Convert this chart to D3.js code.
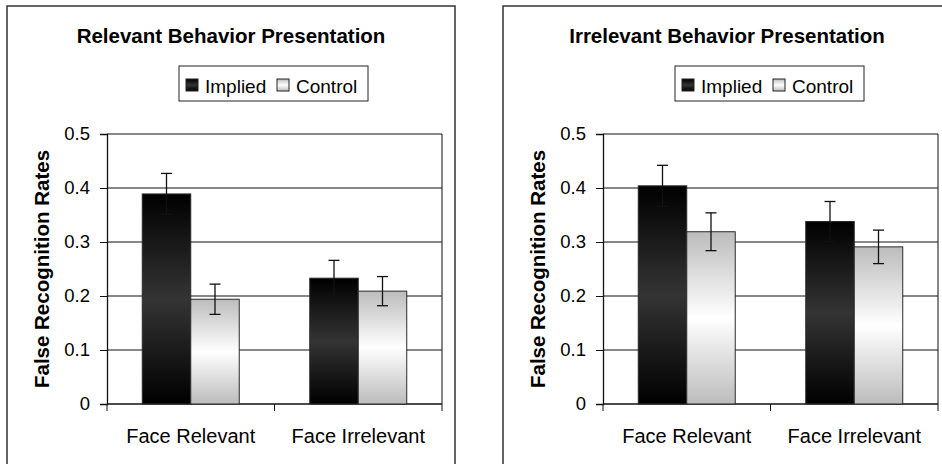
<!DOCTYPE html>
<html>
<head>
<meta charset="utf-8">
<script src="https://cdn.jsdelivr.net/npm/d3@7"></script>
<style>
  body { margin: 0; background: #fff; }
  svg { display: block; font-family: "Liberation Sans", Arial, sans-serif; }
</style>
</head>
<body>
<svg id="chart" width="942" height="464"></svg>
<script>
// data
const categories = ["Face Relevant", "Face Irrelevant"];
const seriesNames = ["Implied", "Control"];
const yTicks = [0, 0.1, 0.2, 0.3, 0.4, 0.5];

const relevantTitle = "Relevant Behavior Presentation";
const relevantImplied = [0.389, 0.233];
const relevantImpliedErr = [0.038, 0.033];
const relevantControl = [0.194, 0.209];
const relevantControlErr = [0.028, 0.027];

const irrelevantTitle = "Irrelevant Behavior Presentation";
const irrelevantImplied = [0.404, 0.338];
const irrelevantImpliedErr = [0.038, 0.037];
const irrelevantControl = [0.319, 0.291];
const irrelevantControlErr = [0.035, 0.031];

const svg = d3.select('#chart');

// gradients like the old excel fill
const defs = svg.append('defs');
function grad(id, edge, mid) {
  const g = defs.append('linearGradient').attr('id', id)
    .attr('x1', 0).attr('y1', 0).attr('x2', 0).attr('y2', 1);
  g.append('stop').attr('offset', '0%').attr('stop-color', edge);
  g.append('stop').attr('offset', '50%').attr('stop-color', mid);
  g.append('stop').attr('offset', '100%').attr('stop-color', edge);
}
grad('gImplied', '#000', '#343434');
grad('gControl', '#bcbcbc', '#ffffff');
const fills = { Implied: 'url(#gImplied)', Control: 'url(#gControl)' };

function drawPanel(offsetX, title, implied, impliedErr, control, controlErr) {
  const g = svg.append('g').attr('transform', `translate(${offsetX},0)`);

  // outer frame
  g.append('rect')
    .attr('x', 7).attr('y', 6).attr('width', 448).attr('height', 470)
    .attr('fill', 'none').attr('stroke', '#333').attr('stroke-width', 1.5);

  g.append('text')
    .attr('x', 231).attr('y', 43)
    .attr('text-anchor', 'middle')
    .style('font-size', '20.5px').style('font-weight', 'bold')
    .text(title);

  const left = 107, right = 442, top = 134, bottom = 404;
  const x0 = d3.scaleBand().domain(categories).range([left, right]);
  const x1 = d3.scaleBand().domain(seriesNames).range([0, x0.bandwidth()])
    .paddingInner(0).paddingOuter(0.727);
  const y = d3.scaleLinear().domain([0, 0.5]).range([bottom, top]);

  // gridlines
  g.append('g').selectAll('line').data(yTicks.filter(d => d > 0))
    .enter().append('line')
    .attr('x1', left).attr('x2', right)
    .attr('y1', d => y(d)).attr('y2', d => y(d))
    .attr('stroke', '#111').attr('stroke-width', 1);
  // right border of plot area
  g.append('line').attr('x1', right).attr('x2', right).attr('y1', top).attr('y2', bottom)
    .attr('stroke', '#111');

  const yAxis = g.append('g').attr('transform', `translate(${left},0)`)
    .call(d3.axisLeft(y).tickValues(yTicks).tickFormat(d3.format('')).tickSize(7).tickPadding(10));
  yAxis.select('.domain').attr('stroke', '#111').attr('stroke-width', 1.3);
  yAxis.selectAll('.tick line').attr('stroke', '#111');
  yAxis.selectAll('.tick text').style('font-size', '18.5px').attr('fill', '#000')
    .style('font-family', '"Liberation Sans", Arial, sans-serif');

  const xAxis = g.append('g').attr('transform', `translate(0,${bottom})`)
    .call(d3.axisBottom(x0).tickSize(0).tickPadding(25));
  xAxis.select('.domain').remove();
  xAxis.selectAll('.tick text').style('font-size', '20px').attr('fill', '#000')
    .style('font-family', '"Liberation Sans", Arial, sans-serif');
  g.append('line').attr('x1', left).attr('x2', right).attr('y1', bottom).attr('y2', bottom)
    .attr('stroke', '#111').attr('stroke-width', 1.3);
  // category divider ticks
  g.append('g').selectAll('line').data([left, x0(categories[1]), right])
    .enter().append('line')
    .attr('x1', d => d).attr('x2', d => d).attr('y1', bottom).attr('y2', bottom + 7)
    .attr('stroke', '#111');

  g.append('text')
    .attr('transform', `translate(49,${(top + bottom) / 2}) rotate(-90)`)
    .attr('text-anchor', 'middle')
    .style('font-size', '20.5px').style('font-weight', 'bold')
    .text('False Recognition Rates');

  const rows = [];
  categories.forEach((c, i) => {
    rows.push({ cat: c, series: 'Implied', value: implied[i], err: impliedErr[i] });
    rows.push({ cat: c, series: 'Control', value: control[i], err: controlErr[i] });
  });

  const bars = g.selectAll('.bar').data(rows).enter().append('g').attr('class', 'bar');
  bars.append('rect')
    .attr('x', d => x0(d.cat) + x1(d.series))
    .attr('y', d => y(d.value))
    .attr('width', x1.bandwidth())
    .attr('height', d => y(0) - y(d.value))
    .attr('fill', d => fills[d.series])
    .attr('stroke', '#2a2a2a').attr('stroke-width', 1);

  // error bars
  const cx = d => x0(d.cat) + x1(d.series) + x1.bandwidth() / 2;
  bars.append('line')
    .attr('x1', cx).attr('x2', cx)
    .attr('y1', d => y(d.value + d.err)).attr('y2', d => y(d.value - d.err))
    .attr('stroke', '#111').attr('stroke-width', 1.3);
  [1, -1].forEach(s => {
    bars.append('line')
      .attr('x1', d => cx(d) - 5.5).attr('x2', d => cx(d) + 5.5)
      .attr('y1', d => y(d.value + s * d.err)).attr('y2', d => y(d.value + s * d.err))
      .attr('stroke', '#111').attr('stroke-width', 1.3);
  });

  // legend
  const lg = g.append('g');
  lg.append('rect').attr('x', 179).attr('y', 66).attr('width', 189).attr('height', 35)
    .attr('fill', '#fff').attr('stroke', '#222').attr('stroke-width', 1);
  const legendX = [186, 277];
  seriesNames.forEach((s, i) => {
    lg.append('rect').attr('x', legendX[i]).attr('y', 79).attr('width', 12).attr('height', 12)
      .attr('fill', fills[s]).attr('stroke', '#222');
    lg.append('text').attr('x', legendX[i] + 19).attr('y', 93)
      .style('font-size', '19px').text(s);
  });
}

drawPanel(0, relevantTitle, relevantImplied, relevantImpliedErr, relevantControl, relevantControlErr);
drawPanel(496, irrelevantTitle, irrelevantImplied, irrelevantImpliedErr, irrelevantControl, irrelevantControlErr);
</script>
</body>
</html>
